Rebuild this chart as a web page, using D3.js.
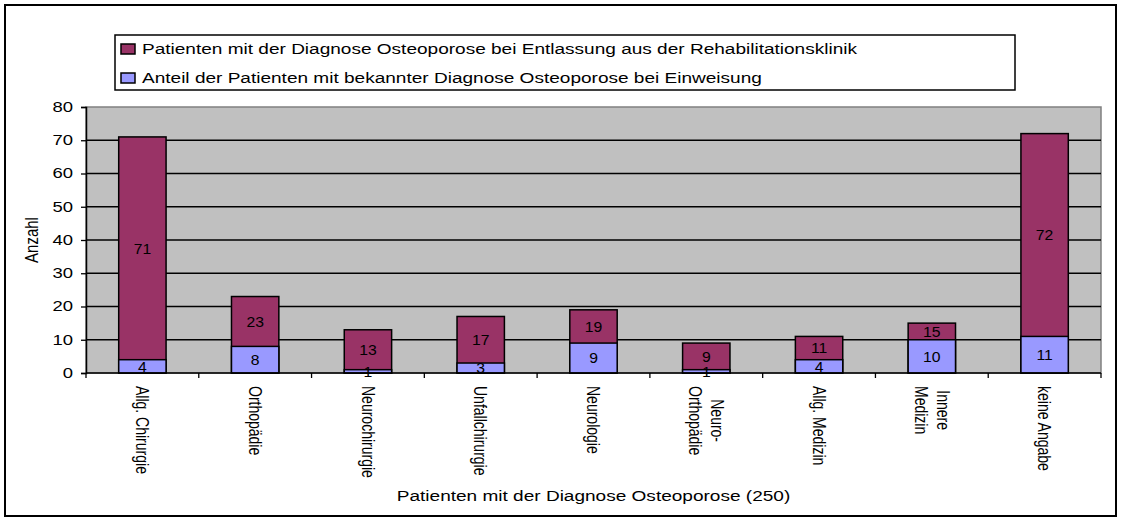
<!DOCTYPE html>
<html><head><meta charset="utf-8">
<script src="https://cdn.jsdelivr.net/npm/d3@7"></script>
<style>body{margin:0;background:#fff}svg{display:block;font-family:"Liberation Sans",Arial,sans-serif}</style>
</head><body><svg id="c" width="1122" height="522"></svg>
<script>
const categories = ["Allg. Chirurgie","Orthopädie","Neurochirurgie","Unfallchirurgie","Neurologie","Neuro-\nOrthopädie","Allg. Medizin","Innere\nMedizin","keine Angabe"];
const entlassung = [71,23,13,17,19,9,11,15,72];
const einweisung = [4,8,1,3,9,1,4,10,11];
const yTicks = [0,10,20,30,40,50,60,70,80];
const seriesNames = ["Patienten mit der Diagnose Osteoporose bei Entlassung aus der Rehabilitationsklinik","Anteil der Patienten mit bekannter Diagnose Osteoporose bei Einweisung"];
const colors = ["#993366","#9999FF"];

const SX = 1.27; // horizontal stretch of the original rendering
const svg = d3.select("#c");
const L=86,R=1101,T=107,B=373;
svg.append("rect").attr("x",5).attr("y",5).attr("width",1111).attr("height",511).attr("fill","#fff").attr("stroke","#000").attr("stroke-width",2);

function stext(x,y,rot,size,anchor,str,sx){
  const g = svg.append("g").attr("transform",`translate(${x},${y}) scale(${sx||SX},1) rotate(${rot})`);
  return g.append("text").attr("font-size",size).attr("text-anchor",anchor).attr("dy","0.35em").text(str);
}

const x = d3.scaleBand().domain(categories).range([L,R]).padding(0);
const y = d3.scaleLinear().domain([0,80]).range([B,T]);
const bw = x.step()*0.42;

svg.append("rect").attr("x",L).attr("y",T).attr("width",R-L).attr("height",B-T).attr("fill","#C0C0C0").attr("stroke","#808080").attr("stroke-width",1.5);
svg.append("g").selectAll("line").data(yTicks.filter(d=>d>0&&d<80)).join("line")
 .attr("x1",L).attr("x2",R).attr("y1",d=>y(d)).attr("y2",d=>y(d)).attr("stroke","#000").attr("stroke-width",1.3);

const g = svg.append("g");
categories.forEach((c,i)=>{
  const cx = x(c)+x.step()/2;
  g.append("rect").attr("x",cx-bw/2).attr("y",y(entlassung[i])).attr("width",bw).attr("height",y(0)-y(entlassung[i]))
   .attr("fill",colors[0]).attr("stroke","#000").attr("stroke-width",1.5);
  g.append("rect").attr("x",cx-bw/2).attr("y",y(einweisung[i])).attr("width",bw).attr("height",y(0)-y(einweisung[i]))
   .attr("fill",colors[1]).attr("stroke","#000").attr("stroke-width",1.5);
});
categories.forEach((c,i)=>{
  const cx = x(c)+x.step()/2;
  stext(cx,y((entlassung[i]+einweisung[i])/2),0,15,"middle",entlassung[i],1.05);
  stext(cx,y(einweisung[i]/2),0,15,"middle",einweisung[i],1.05);
});

// y axis
const ya = svg.append("g").attr("transform",`translate(${L},0)`).call(d3.axisLeft(y).tickValues(yTicks).tickSize(5).tickFormat(""));
ya.select(".domain").attr("stroke","#000").attr("stroke-width",1.5);
ya.selectAll(".tick line").attr("stroke","#000").attr("stroke-width",1.3);
yTicks.forEach(v=>stext(L-13,y(v),0,14,"end",v,1.32));

// x axis
const xa = svg.append("g").attr("transform",`translate(0,${B})`);
xa.append("line").attr("x1",L).attr("x2",R).attr("stroke","#000").attr("stroke-width",1.5);
const bounds = categories.map((c,i)=>L+x.step()*i).concat([R]);
xa.selectAll(".tk").data(bounds).join("line").attr("x1",d=>d).attr("x2",d=>d).attr("y1",0).attr("y2",5).attr("stroke","#000").attr("stroke-width",1.3);

categories.forEach(c=>{
  const cx = x(c)+x.step()/2;
  const lines = c.split("\n");
  const grp = svg.append("g").attr("transform",`translate(${cx},386) scale(${SX},1) rotate(90)`);
  const t = grp.append("text").attr("font-size",14);
  lines.forEach((ln,j)=>{
    t.append("tspan").attr("x",0).attr("y",(j-(lines.length-1)/2)*17.5).attr("dy","0.35em").text(ln);
  });
  if(lines.length>1){
    const spans = t.selectAll("tspan").nodes();
    const w = Math.max(...spans.map(s=>s.getComputedTextLength()));
    spans.forEach(s=>{ d3.select(s).attr("x",w/2).attr("text-anchor","middle"); });
  }
});

stext((L+R)/2,496,0,15,"middle","Patienten mit der Diagnose Osteoporose (250)");
stext(31,(T+B)/2,-90,15,"middle","Anzahl");

// legend
svg.append("rect").attr("x",115).attr("y",35).attr("width",900).attr("height",55).attr("fill","#fff").attr("stroke","#000").attr("stroke-width",1.5);
seriesNames.forEach((s,i)=>{
  const cy = 49+i*29;
  svg.append("rect").attr("x",121).attr("y",cy-5).attr("width",14).attr("height",10).attr("fill",colors[i]).attr("stroke","#000").attr("stroke-width",1.5);
  stext(142,cy,0,15,"start",s);
});
</script></body></html>
